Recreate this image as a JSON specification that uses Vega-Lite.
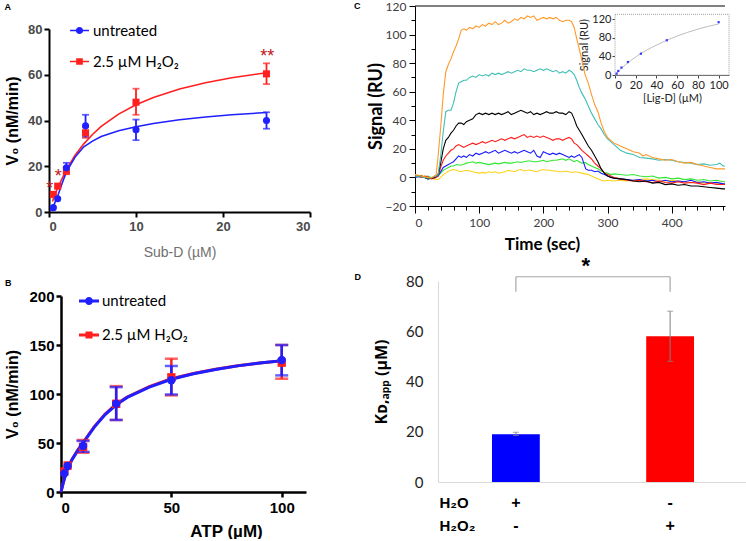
{
"$schema":"https://vega.github.io/schema/vega-lite/v6.json",
"background":"white",
"padding":{"left":3,"top":0,"right":0,"bottom":0},
"config":{"view":{"stroke":null},"axis":{"grid":false,"labelFont":"Liberation Sans","titleFont":"Liberation Sans"},"title":{"font":"Liberation Sans","fontSize":9,"fontWeight":"bold","color":"black","anchor":"start","frame":"bounds"}},
"datasets":{
"SP":[],
"A_fit":[{"g":"Au","x":0.2,"y":0.5},{"g":"Au","x":0.5,"y":2.5},{"g":"Au","x":1,"y":7},{"g":"Au","x":1.5,"y":12.5},{"g":"Au","x":2,"y":17.5},{"g":"Au","x":3,"y":24},{"g":"Au","x":4,"y":28.5},{"g":"Au","x":5,"y":31},{"g":"Au","x":6,"y":33},{"g":"Au","x":8,"y":35.5},{"g":"Au","x":10,"y":37.3},{"g":"Au","x":12,"y":38.7},{"g":"Au","x":15,"y":40.3},{"g":"Au","x":18,"y":41.5},{"g":"Au","x":21,"y":42.5},{"g":"Au","x":25,"y":43.5},
{"g":"Ah","x":0.4,"y":4.6},{"g":"Ah","x":0.5,"y":5.7},{"g":"Ah","x":1,"y":10.6},{"g":"Ah","x":2,"y":18.5},{"g":"Ah","x":3,"y":24.8},{"g":"Ah","x":4,"y":29.8},{"g":"Ah","x":5,"y":33.9},{"g":"Ah","x":6,"y":37.4},{"g":"Ah","x":8,"y":42.8},{"g":"Ah","x":10,"y":46.9},{"g":"Ah","x":12,"y":50.1},{"g":"Ah","x":15,"y":53.8},{"g":"Ah","x":18,"y":56.5},{"g":"Ah","x":21,"y":58.7},{"g":"Ah","x":25,"y":60.9}],
"A_pts":[{"g":"Au","x":0.5,"y":1.9,"lo":1.9,"hi":1.9},{"g":"Au","x":1,"y":5.8,"lo":5.8,"hi":5.8},{"g":"Au","x":2,"y":19.3,"lo":17,"hi":21.5},{"g":"Au","x":4.2,"y":37.7,"lo":33,"hi":42.5},{"g":"Au","x":10,"y":36,"lo":31.4,"hi":40.4},{"g":"Au","x":25,"y":40,"lo":36.4,"hi":43.6},
{"g":"Ah","x":0.5,"y":7.7,"lo":7.7,"hi":7.7},{"g":"Ah","x":1,"y":11.3,"lo":11.3,"hi":11.3},{"g":"Ah","x":2,"y":18,"lo":16.5,"hi":19.5},{"g":"Ah","x":4.2,"y":34.6,"lo":32.4,"hi":37},{"g":"Ah","x":10,"y":48,"lo":42.5,"hi":53.9},{"g":"Ah","x":25,"y":60.4,"lo":55.9,"hi":65}],
"A_star":[{"x":0.1,"y":11.9,"t":"*"},{"x":1.05,"y":17.1,"t":"*"},{"x":25.1,"y":69.5,"t":"**"}],
"B_fit":[{"g":"Bh","x":0,"y":0},{"g":"Bh","x":1,"y":9.5},{"g":"Bh","x":2,"y":17.5},{"g":"Bh","x":3,"y":24.5},{"g":"Bh","x":5,"y":33.5},{"g":"Bh","x":7.5,"y":42.5},{"g":"Bh","x":10,"y":50.5},{"g":"Bh","x":15,"y":66.5},{"g":"Bh","x":20,"y":79.5},{"g":"Bh","x":25,"y":89.5},{"g":"Bh","x":30,"y":97},{"g":"Bh","x":40,"y":107.5},{"g":"Bh","x":50,"y":115.5},{"g":"Bh","x":60,"y":121},{"g":"Bh","x":70,"y":125.3},{"g":"Bh","x":80,"y":128.8},{"g":"Bh","x":90,"y":131.6},{"g":"Bh","x":100,"y":133.8},
{"g":"Bu","x":0,"y":0},{"g":"Bu","x":1,"y":9},{"g":"Bu","x":2,"y":17},{"g":"Bu","x":3,"y":24},{"g":"Bu","x":5,"y":33},{"g":"Bu","x":7.5,"y":42},{"g":"Bu","x":10,"y":50},{"g":"Bu","x":15,"y":66},{"g":"Bu","x":20,"y":79},{"g":"Bu","x":25,"y":89},{"g":"Bu","x":30,"y":96.5},{"g":"Bu","x":40,"y":107},{"g":"Bu","x":50,"y":115},{"g":"Bu","x":60,"y":120.7},{"g":"Bu","x":70,"y":125},{"g":"Bu","x":80,"y":128.7},{"g":"Bu","x":90,"y":131.6},{"g":"Bu","x":100,"y":134}],
"B_pts":[{"g":"Bh","x":1.5,"y":21,"lo":21,"hi":21},{"g":"Bh","x":3,"y":27,"lo":27,"hi":27},{"g":"Bh","x":10,"y":46,"lo":40,"hi":53},{"g":"Bh","x":25,"y":90,"lo":73.5,"hi":108},{"g":"Bh","x":50,"y":117,"lo":98.6,"hi":136},{"g":"Bh","x":100,"y":132,"lo":115.6,"hi":150},
{"g":"Bu","x":1.5,"y":19,"lo":19,"hi":19},{"g":"Bu","x":3,"y":26.5,"lo":26.5,"hi":26.5},{"g":"Bu","x":10,"y":47,"lo":41,"hi":52},{"g":"Bu","x":25,"y":90,"lo":73.5,"hi":107},{"g":"Bu","x":50,"y":114,"lo":99.5,"hi":128.6},{"g":"Bu","x":100,"y":134.7,"lo":119,"hi":150}],
"C_sig":[
{"s":"y","t":0,"v":2},{"s":"y","t":5,"v":1},{"s":"y","t":10,"v":1.5},{"s":"y","t":15,"v":0.5},{"s":"y","t":20,"v":-0.5},{"s":"y","t":25,"v":-0.5},{"s":"y","t":30,"v":-1},{"s":"y","t":33,"v":-1.5},{"s":"y","t":36,"v":-1.5},{"s":"y","t":40,"v":0},{"s":"y","t":44,"v":2},{"s":"y","t":48,"v":3},{"s":"y","t":52,"v":4.5},{"s":"y","t":56,"v":5},{"s":"y","t":60,"v":5.5},{"s":"y","t":65,"v":5},{"s":"y","t":70,"v":4},{"s":"y","t":75,"v":4.5},{"s":"y","t":80,"v":5},{"s":"y","t":85,"v":4.5},{"s":"y","t":90,"v":4},{"s":"y","t":95,"v":3.5},{"s":"y","t":100,"v":3},{"s":"y","t":105,"v":3.5},{"s":"y","t":110,"v":3},{"s":"y","t":115,"v":4},{"s":"y","t":120,"v":3.5},{"s":"y","t":125,"v":4},{"s":"y","t":130,"v":3},{"s":"y","t":135,"v":3.5},{"s":"y","t":140,"v":4},{"s":"y","t":145,"v":5},{"s":"y","t":150,"v":4.5},{"s":"y","t":155,"v":4},{"s":"y","t":160,"v":5},{"s":"y","t":165,"v":5.5},{"s":"y","t":170,"v":4.5},{"s":"y","t":175,"v":5},{"s":"y","t":180,"v":5},{"s":"y","t":185,"v":4.5},{"s":"y","t":190,"v":4},{"s":"y","t":195,"v":5},{"s":"y","t":200,"v":5.5},{"s":"y","t":205,"v":5},{"s":"y","t":210,"v":5},{"s":"y","t":215,"v":4.5},{"s":"y","t":220,"v":4.5},{"s":"y","t":225,"v":4},{"s":"y","t":230,"v":4},{"s":"y","t":235,"v":4.5},{"s":"y","t":240,"v":4},{"s":"y","t":245,"v":3.5},{"s":"y","t":250,"v":4},{"s":"y","t":255,"v":3.5},{"s":"y","t":260,"v":3},{"s":"y","t":265,"v":2.5},{"s":"y","t":270,"v":2},{"s":"y","t":275,"v":1},{"s":"y","t":280,"v":0},{"s":"y","t":285,"v":-1},{"s":"y","t":290,"v":-2},{"s":"y","t":295,"v":-2.5},{"s":"y","t":300,"v":-2},{"s":"y","t":310,"v":-2.5},{"s":"y","t":320,"v":-2},{"s":"y","t":330,"v":-2.5},{"s":"y","t":340,"v":-2},{"s":"y","t":350,"v":-1.5},{"s":"y","t":360,"v":-1},{"s":"y","t":370,"v":-1.5},{"s":"y","t":380,"v":-2},{"s":"y","t":390,"v":-2.5},{"s":"y","t":400,"v":-2},{"s":"y","t":410,"v":-2.5},{"s":"y","t":420,"v":-3},{"s":"y","t":430,"v":-3.5},{"s":"y","t":440,"v":-3},{"s":"y","t":450,"v":-4},{"s":"y","t":460,"v":-3.5},{"s":"y","t":470,"v":-4},{"s":"y","t":480,"v":-4.5},{"s":"y","t":483,"v":-4.5},
{"s":"g","t":0,"v":0.5},{"s":"g","t":5,"v":1},{"s":"g","t":10,"v":0},{"s":"g","t":15,"v":0.5},{"s":"g","t":20,"v":1},{"s":"g","t":25,"v":0},{"s":"g","t":30,"v":0},{"s":"g","t":33,"v":0.5},{"s":"g","t":36,"v":1},{"s":"g","t":40,"v":3},{"s":"g","t":44,"v":5},{"s":"g","t":48,"v":6},{"s":"g","t":52,"v":7},{"s":"g","t":56,"v":8},{"s":"g","t":60,"v":8},{"s":"g","t":65,"v":9},{"s":"g","t":70,"v":8.5},{"s":"g","t":75,"v":9},{"s":"g","t":80,"v":10},{"s":"g","t":85,"v":10.5},{"s":"g","t":90,"v":11},{"s":"g","t":95,"v":10},{"s":"g","t":100,"v":10.5},{"s":"g","t":105,"v":10},{"s":"g","t":110,"v":9.5},{"s":"g","t":115,"v":9},{"s":"g","t":120,"v":9.5},{"s":"g","t":125,"v":10},{"s":"g","t":130,"v":9.5},{"s":"g","t":135,"v":10},{"s":"g","t":140,"v":10.5},{"s":"g","t":145,"v":10},{"s":"g","t":150,"v":10},{"s":"g","t":155,"v":10.5},{"s":"g","t":160,"v":11},{"s":"g","t":165,"v":10.5},{"s":"g","t":170,"v":11},{"s":"g","t":175,"v":11.5},{"s":"g","t":180,"v":11.5},{"s":"g","t":185,"v":11},{"s":"g","t":190,"v":11},{"s":"g","t":195,"v":11.5},{"s":"g","t":200,"v":12},{"s":"g","t":205,"v":11},{"s":"g","t":210,"v":11.5},{"s":"g","t":215,"v":12},{"s":"g","t":220,"v":12},{"s":"g","t":225,"v":12.5},{"s":"g","t":230,"v":13},{"s":"g","t":235,"v":12},{"s":"g","t":240,"v":13},{"s":"g","t":244,"v":12},{"s":"g","t":248,"v":11},{"s":"g","t":252,"v":12},{"s":"g","t":256,"v":11},{"s":"g","t":260,"v":10},{"s":"g","t":265,"v":10.5},{"s":"g","t":270,"v":9},{"s":"g","t":275,"v":8},{"s":"g","t":280,"v":7},{"s":"g","t":285,"v":6},{"s":"g","t":290,"v":4.5},{"s":"g","t":295,"v":3.5},{"s":"g","t":300,"v":3},{"s":"g","t":305,"v":2},{"s":"g","t":310,"v":2.5},{"s":"g","t":320,"v":2},{"s":"g","t":330,"v":1.5},{"s":"g","t":340,"v":2},{"s":"g","t":350,"v":1},{"s":"g","t":360,"v":0.5},{"s":"g","t":370,"v":1},{"s":"g","t":380,"v":-0.5},{"s":"g","t":390,"v":0},{"s":"g","t":400,"v":-1},{"s":"g","t":410,"v":-0.5},{"s":"g","t":420,"v":-1.5},{"s":"g","t":430,"v":-1},{"s":"g","t":440,"v":-2},{"s":"g","t":450,"v":-1.5},{"s":"g","t":460,"v":-2.5},{"s":"g","t":470,"v":-2},{"s":"g","t":480,"v":-3},{"s":"g","t":483,"v":-3},
{"s":"b","t":0,"v":0},{"s":"b","t":5,"v":0.5},{"s":"b","t":10,"v":1},{"s":"b","t":15,"v":0},{"s":"b","t":20,"v":-1},{"s":"b","t":25,"v":-0.5},{"s":"b","t":30,"v":0},{"s":"b","t":33,"v":0.5},{"s":"b","t":36,"v":1},{"s":"b","t":40,"v":4},{"s":"b","t":44,"v":7},{"s":"b","t":48,"v":8},{"s":"b","t":52,"v":9},{"s":"b","t":56,"v":10},{"s":"b","t":60,"v":11},{"s":"b","t":64,"v":13},{"s":"b","t":68,"v":15},{"s":"b","t":72,"v":14},{"s":"b","t":76,"v":15},{"s":"b","t":80,"v":14},{"s":"b","t":85,"v":16},{"s":"b","t":90,"v":15},{"s":"b","t":95,"v":17},{"s":"b","t":100,"v":16},{"s":"b","t":105,"v":17},{"s":"b","t":110,"v":18},{"s":"b","t":115,"v":17},{"s":"b","t":120,"v":18},{"s":"b","t":125,"v":19},{"s":"b","t":130,"v":17},{"s":"b","t":135,"v":18},{"s":"b","t":140,"v":19},{"s":"b","t":145,"v":18},{"s":"b","t":150,"v":17},{"s":"b","t":155,"v":18},{"s":"b","t":160,"v":17},{"s":"b","t":165,"v":18},{"s":"b","t":170,"v":19},{"s":"b","t":175,"v":18},{"s":"b","t":180,"v":17},{"s":"b","t":185,"v":19},{"s":"b","t":190,"v":15},{"s":"b","t":195,"v":14},{"s":"b","t":200,"v":18},{"s":"b","t":205,"v":17},{"s":"b","t":210,"v":16},{"s":"b","t":215,"v":17},{"s":"b","t":220,"v":16},{"s":"b","t":225,"v":17},{"s":"b","t":230,"v":16},{"s":"b","t":235,"v":15},{"s":"b","t":240,"v":14},{"s":"b","t":244,"v":15},{"s":"b","t":248,"v":14},{"s":"b","t":252,"v":15},{"s":"b","t":256,"v":16},{"s":"b","t":260,"v":14},{"s":"b","t":263,"v":10},{"s":"b","t":266,"v":6},{"s":"b","t":270,"v":5},{"s":"b","t":275,"v":5},{"s":"b","t":280,"v":4},{"s":"b","t":285,"v":4.5},{"s":"b","t":290,"v":3},{"s":"b","t":295,"v":2},{"s":"b","t":300,"v":1},{"s":"b","t":310,"v":-0.5},{"s":"b","t":320,"v":-1},{"s":"b","t":330,"v":-1.5},{"s":"b","t":340,"v":-2},{"s":"b","t":350,"v":-1.5},{"s":"b","t":360,"v":-2.5},{"s":"b","t":370,"v":-2},{"s":"b","t":380,"v":-3},{"s":"b","t":390,"v":-2},{"s":"b","t":400,"v":-3},{"s":"b","t":410,"v":-2.5},{"s":"b","t":420,"v":-3},{"s":"b","t":430,"v":-2},{"s":"b","t":440,"v":-3.5},{"s":"b","t":450,"v":-3},{"s":"b","t":460,"v":-4},{"s":"b","t":470,"v":-3.5},{"s":"b","t":480,"v":-4.5},{"s":"b","t":483,"v":-4.5},
{"s":"r","t":0,"v":1},{"s":"r","t":5,"v":0.5},{"s":"r","t":10,"v":0},{"s":"r","t":15,"v":1},{"s":"r","t":20,"v":0.5},{"s":"r","t":25,"v":-1},{"s":"r","t":30,"v":-0.5},{"s":"r","t":33,"v":0},{"s":"r","t":36,"v":1},{"s":"r","t":40,"v":7},{"s":"r","t":44,"v":12},{"s":"r","t":48,"v":15},{"s":"r","t":52,"v":17},{"s":"r","t":56,"v":19},{"s":"r","t":60,"v":20},{"s":"r","t":64,"v":22},{"s":"r","t":68,"v":23},{"s":"r","t":72,"v":22},{"s":"r","t":76,"v":21},{"s":"r","t":80,"v":22},{"s":"r","t":85,"v":23},{"s":"r","t":90,"v":24},{"s":"r","t":95,"v":23},{"s":"r","t":100,"v":24},{"s":"r","t":105,"v":25},{"s":"r","t":110,"v":24},{"s":"r","t":115,"v":25},{"s":"r","t":120,"v":26},{"s":"r","t":125,"v":25},{"s":"r","t":130,"v":26},{"s":"r","t":135,"v":27},{"s":"r","t":140,"v":26},{"s":"r","t":145,"v":27},{"s":"r","t":150,"v":28},{"s":"r","t":155,"v":27},{"s":"r","t":160,"v":28},{"s":"r","t":165,"v":29},{"s":"r","t":170,"v":30},{"s":"r","t":175,"v":28},{"s":"r","t":180,"v":29},{"s":"r","t":185,"v":28},{"s":"r","t":190,"v":29},{"s":"r","t":195,"v":28},{"s":"r","t":200,"v":29},{"s":"r","t":205,"v":28},{"s":"r","t":210,"v":27},{"s":"r","t":215,"v":26},{"s":"r","t":220,"v":27},{"s":"r","t":225,"v":27},{"s":"r","t":230,"v":26},{"s":"r","t":235,"v":27},{"s":"r","t":240,"v":28},{"s":"r","t":244,"v":27},{"s":"r","t":248,"v":24},{"s":"r","t":252,"v":23},{"s":"r","t":256,"v":21},{"s":"r","t":260,"v":19},{"s":"r","t":265,"v":17},{"s":"r","t":270,"v":15},{"s":"r","t":275,"v":13},{"s":"r","t":280,"v":10},{"s":"r","t":285,"v":8},{"s":"r","t":290,"v":6},{"s":"r","t":295,"v":3},{"s":"r","t":300,"v":2},{"s":"r","t":305,"v":1},{"s":"r","t":310,"v":0},{"s":"r","t":320,"v":-1},{"s":"r","t":330,"v":-2},{"s":"r","t":340,"v":-2.5},{"s":"r","t":350,"v":-2},{"s":"r","t":360,"v":-3},{"s":"r","t":370,"v":-3.5},{"s":"r","t":380,"v":-2.5},{"s":"r","t":390,"v":-3.5},{"s":"r","t":400,"v":-4},{"s":"r","t":410,"v":-3},{"s":"r","t":420,"v":-4},{"s":"r","t":430,"v":-3.5},{"s":"r","t":440,"v":-4},{"s":"r","t":450,"v":-5},{"s":"r","t":460,"v":-4},{"s":"r","t":470,"v":-5},{"s":"r","t":480,"v":-5},{"s":"r","t":483,"v":-5},
{"s":"k","t":0,"v":0.5},{"s":"k","t":5,"v":1},{"s":"k","t":10,"v":1},{"s":"k","t":15,"v":0},{"s":"k","t":20,"v":-1},{"s":"k","t":25,"v":-0.5},{"s":"k","t":30,"v":0},{"s":"k","t":33,"v":1},{"s":"k","t":36,"v":2},{"s":"k","t":40,"v":10},{"s":"k","t":44,"v":20},{"s":"k","t":48,"v":26},{"s":"k","t":52,"v":28},{"s":"k","t":56,"v":31},{"s":"k","t":60,"v":33},{"s":"k","t":64,"v":36},{"s":"k","t":68,"v":38},{"s":"k","t":72,"v":38},{"s":"k","t":76,"v":37},{"s":"k","t":80,"v":39},{"s":"k","t":85,"v":40},{"s":"k","t":90,"v":41},{"s":"k","t":95,"v":44},{"s":"k","t":100,"v":45},{"s":"k","t":105,"v":44},{"s":"k","t":110,"v":45},{"s":"k","t":115,"v":44},{"s":"k","t":120,"v":45},{"s":"k","t":125,"v":44},{"s":"k","t":130,"v":45},{"s":"k","t":135,"v":44},{"s":"k","t":140,"v":45},{"s":"k","t":145,"v":46},{"s":"k","t":150,"v":44},{"s":"k","t":155,"v":45},{"s":"k","t":160,"v":46},{"s":"k","t":165,"v":47},{"s":"k","t":170,"v":46},{"s":"k","t":175,"v":45},{"s":"k","t":180,"v":46},{"s":"k","t":185,"v":44},{"s":"k","t":190,"v":45},{"s":"k","t":195,"v":44},{"s":"k","t":200,"v":45},{"s":"k","t":205,"v":46},{"s":"k","t":210,"v":45},{"s":"k","t":215,"v":45},{"s":"k","t":220,"v":46},{"s":"k","t":225,"v":45},{"s":"k","t":230,"v":45},{"s":"k","t":235,"v":44},{"s":"k","t":240,"v":46},{"s":"k","t":244,"v":45},{"s":"k","t":248,"v":41},{"s":"k","t":252,"v":36},{"s":"k","t":256,"v":33},{"s":"k","t":260,"v":30},{"s":"k","t":265,"v":26},{"s":"k","t":270,"v":22},{"s":"k","t":275,"v":19},{"s":"k","t":280,"v":15},{"s":"k","t":285,"v":11},{"s":"k","t":290,"v":6},{"s":"k","t":295,"v":3},{"s":"k","t":300,"v":1},{"s":"k","t":305,"v":0},{"s":"k","t":310,"v":-0.5},{"s":"k","t":320,"v":-1},{"s":"k","t":330,"v":-1.5},{"s":"k","t":340,"v":-2.5},{"s":"k","t":350,"v":-3},{"s":"k","t":360,"v":-2.5},{"s":"k","t":370,"v":-4},{"s":"k","t":380,"v":-3.5},{"s":"k","t":390,"v":-5},{"s":"k","t":400,"v":-4.5},{"s":"k","t":410,"v":-5.5},{"s":"k","t":420,"v":-5},{"s":"k","t":430,"v":-6},{"s":"k","t":440,"v":-6},{"s":"k","t":450,"v":-6.5},{"s":"k","t":460,"v":-7},{"s":"k","t":470,"v":-7.5},{"s":"k","t":480,"v":-8},{"s":"k","t":483,"v":-8},
{"s":"c","t":0,"v":1},{"s":"c","t":5,"v":0.5},{"s":"c","t":10,"v":0.5},{"s":"c","t":15,"v":0},{"s":"c","t":20,"v":-0.5},{"s":"c","t":25,"v":0},{"s":"c","t":30,"v":0.5},{"s":"c","t":33,"v":1},{"s":"c","t":36,"v":2},{"s":"c","t":40,"v":15},{"s":"c","t":44,"v":32},{"s":"c","t":48,"v":46},{"s":"c","t":52,"v":47},{"s":"c","t":56,"v":47},{"s":"c","t":60,"v":52},{"s":"c","t":64,"v":60},{"s":"c","t":68,"v":66},{"s":"c","t":72,"v":67},{"s":"c","t":76,"v":68},{"s":"c","t":80,"v":68},{"s":"c","t":85,"v":70},{"s":"c","t":90,"v":71},{"s":"c","t":95,"v":70},{"s":"c","t":100,"v":72},{"s":"c","t":105,"v":71},{"s":"c","t":110,"v":72},{"s":"c","t":115,"v":71},{"s":"c","t":120,"v":73},{"s":"c","t":125,"v":72},{"s":"c","t":130,"v":73},{"s":"c","t":135,"v":72},{"s":"c","t":140,"v":73},{"s":"c","t":145,"v":74},{"s":"c","t":150,"v":73},{"s":"c","t":155,"v":74},{"s":"c","t":160,"v":75},{"s":"c","t":165,"v":74},{"s":"c","t":170,"v":76},{"s":"c","t":175,"v":75},{"s":"c","t":180,"v":75},{"s":"c","t":185,"v":74},{"s":"c","t":190,"v":75},{"s":"c","t":195,"v":76},{"s":"c","t":200,"v":75},{"s":"c","t":205,"v":76},{"s":"c","t":210,"v":75},{"s":"c","t":215,"v":74},{"s":"c","t":220,"v":75},{"s":"c","t":225,"v":73},{"s":"c","t":230,"v":74},{"s":"c","t":235,"v":73},{"s":"c","t":240,"v":75},{"s":"c","t":244,"v":74},{"s":"c","t":248,"v":72},{"s":"c","t":252,"v":68},{"s":"c","t":256,"v":63},{"s":"c","t":260,"v":59},{"s":"c","t":265,"v":55},{"s":"c","t":270,"v":50},{"s":"c","t":275,"v":45},{"s":"c","t":280,"v":41},{"s":"c","t":285,"v":37},{"s":"c","t":290,"v":34},{"s":"c","t":295,"v":30},{"s":"c","t":300,"v":27},{"s":"c","t":305,"v":25},{"s":"c","t":310,"v":23},{"s":"c","t":315,"v":21},{"s":"c","t":320,"v":19},{"s":"c","t":325,"v":18},{"s":"c","t":330,"v":17},{"s":"c","t":340,"v":16},{"s":"c","t":350,"v":14},{"s":"c","t":360,"v":13.5},{"s":"c","t":370,"v":13},{"s":"c","t":380,"v":12},{"s":"c","t":390,"v":12.5},{"s":"c","t":400,"v":12},{"s":"c","t":410,"v":11},{"s":"c","t":420,"v":10.5},{"s":"c","t":430,"v":10},{"s":"c","t":440,"v":9},{"s":"c","t":450,"v":9.5},{"s":"c","t":460,"v":8.5},{"s":"c","t":470,"v":9},{"s":"c","t":475,"v":10},{"s":"c","t":480,"v":8},{"s":"c","t":483,"v":8},
{"s":"o","t":0,"v":2},{"s":"o","t":5,"v":1.5},{"s":"o","t":10,"v":1},{"s":"o","t":15,"v":0.5},{"s":"o","t":20,"v":0},{"s":"o","t":25,"v":-0.5},{"s":"o","t":30,"v":1},{"s":"o","t":33,"v":2},{"s":"o","t":36,"v":15},{"s":"o","t":40,"v":35},{"s":"o","t":44,"v":58},{"s":"o","t":48,"v":74},{"s":"o","t":52,"v":79},{"s":"o","t":56,"v":83},{"s":"o","t":60,"v":88},{"s":"o","t":64,"v":92},{"s":"o","t":68,"v":97},{"s":"o","t":72,"v":103},{"s":"o","t":76,"v":104},{"s":"o","t":80,"v":103},{"s":"o","t":85,"v":105},{"s":"o","t":90,"v":104},{"s":"o","t":95,"v":106},{"s":"o","t":100,"v":105},{"s":"o","t":105,"v":107},{"s":"o","t":110,"v":106},{"s":"o","t":115,"v":108},{"s":"o","t":120,"v":107},{"s":"o","t":125,"v":109},{"s":"o","t":130,"v":107},{"s":"o","t":135,"v":108},{"s":"o","t":140,"v":110},{"s":"o","t":145,"v":108},{"s":"o","t":150,"v":109},{"s":"o","t":155,"v":111},{"s":"o","t":160,"v":110},{"s":"o","t":165,"v":112},{"s":"o","t":170,"v":111},{"s":"o","t":175,"v":113},{"s":"o","t":180,"v":112},{"s":"o","t":185,"v":113},{"s":"o","t":190,"v":110},{"s":"o","t":195,"v":111},{"s":"o","t":200,"v":112},{"s":"o","t":205,"v":111},{"s":"o","t":210,"v":112},{"s":"o","t":215,"v":111},{"s":"o","t":220,"v":112},{"s":"o","t":225,"v":110},{"s":"o","t":230,"v":109},{"s":"o","t":235,"v":110},{"s":"o","t":240,"v":110},{"s":"o","t":244,"v":109},{"s":"o","t":248,"v":105},{"s":"o","t":252,"v":97},{"s":"o","t":256,"v":90},{"s":"o","t":260,"v":82},{"s":"o","t":265,"v":72},{"s":"o","t":270,"v":66},{"s":"o","t":275,"v":58},{"s":"o","t":280,"v":51},{"s":"o","t":285,"v":46},{"s":"o","t":290,"v":38},{"s":"o","t":295,"v":32},{"s":"o","t":300,"v":28},{"s":"o","t":305,"v":26},{"s":"o","t":310,"v":24},{"s":"o","t":315,"v":23},{"s":"o","t":320,"v":22},{"s":"o","t":325,"v":21},{"s":"o","t":330,"v":20},{"s":"o","t":335,"v":19},{"s":"o","t":340,"v":18},{"s":"o","t":350,"v":17},{"s":"o","t":355,"v":15},{"s":"o","t":360,"v":16},{"s":"o","t":370,"v":14},{"s":"o","t":380,"v":13},{"s":"o","t":390,"v":12},{"s":"o","t":400,"v":12.5},{"s":"o","t":410,"v":11},{"s":"o","t":420,"v":10},{"s":"o","t":430,"v":10.5},{"s":"o","t":440,"v":9},{"s":"o","t":450,"v":8},{"s":"o","t":460,"v":7},{"s":"o","t":470,"v":6},{"s":"o","t":480,"v":6},{"s":"o","t":483,"v":6}],
"C_top":[{"y":120}],
"C_frame":[{"x0":0,"x1":110,"y0":0,"y1":131}],
"C_ifit":[{"x":0,"y":0},{"x":5,"y":12},{"x":10,"y":22},{"x":20,"y":39},{"x":30,"y":53},{"x":40,"y":64.5},{"x":50,"y":75},{"x":60,"y":84},{"x":70,"y":92},{"x":80,"y":99},{"x":90,"y":105},{"x":100,"y":110}],
"C_ipts":[{"x":1.56,"y":3},{"x":3.13,"y":8.6},{"x":6.25,"y":16},{"x":12.5,"y":28},{"x":25,"y":46},{"x":50,"y":75},{"x":100,"y":114}],
"D_bars":[{"c":"a","v":19,"lo":18.5,"hi":19.8},{"c":"b","v":58,"lo":48,"hi":68}],
"D_brv":[{"c":"a","y":75.7,"y2":81.7},{"c":"b","y":75.7,"y2":81.7}],
"D_brh":[{"c":"a","c2":"b","y":81.7}],
"D_star":[{"c":"a","y":86,"t":"*"}]
},
"resolve":{"scale":{"color":"independent","shape":"independent"},"legend":{"color":"independent","shape":"independent"}},
"spacing":42,
"hconcat":[
{"vconcat":[
 {"width":1,"height":1,"data":{"name":"SP"},"mark":{"type":"point","opacity":0},"encoding":{}},
 {"vconcat":[
  {"hconcat":[
   {"width":1,"height":1,"data":{"name":"SP"},"mark":{"type":"point","opacity":0},"encoding":{}},
   {"width":261,"height":183,
    "title":{"text":"A","offset":9},
    "layer":[
     {"data":{"name":"A_fit"},"transform":[{"filter":"datum.g === 'Ah'"}],"mark":{"type":"line","strokeWidth":1.6,"color":"#ff1f1f"},
      "encoding":{
       "x":{"field":"x","type":"quantitative","scale":{"domain":[0,30],"nice":false},"axis":{"values":[0,10,20,30],"title":"Sub-D (µM)","titleColor":"#707070","titleFontWeight":"normal","titleFontSize":14,"titlePadding":12,"labelColor":"#4a4a4a","labelFontWeight":"bold","labelFontSize":13,"labelPadding":3,"domainColor":"black","domainWidth":2,"tickColor":"black","tickWidth":2,"tickSize":5}},
       "y":{"field":"y","type":"quantitative","title":"V₀ (nM/min)","scale":{"domain":[0,80],"nice":false},"axis":{"values":[0,20,40,60,80],"titleColor":"black","titleFontSize":16,"titleFontWeight":"bold","titlePadding":7,"labelColor":"#4a4a4a","labelFontWeight":"bold","labelFontSize":13,"labelPadding":2,"domainColor":"black","domainWidth":2,"tickColor":"black","tickWidth":2,"tickSize":5}}}},
     {"data":{"name":"A_fit"},"transform":[{"filter":"datum.g === 'Au'"}],"mark":{"type":"line","strokeWidth":1.6,"color":"#1f1fff"},
      "encoding":{"x":{"field":"x","type":"quantitative"},"y":{"field":"y","type":"quantitative","title":"V₀ (nM/min)"}}},
     {"data":{"name":"A_pts"},"transform":[{"filter":"datum.g === 'Ah' && datum.hi > datum.lo"}],"mark":{"type":"errorbar","color":"#ff1f1f","thickness":1.8,"ticks":{"size":7,"thickness":1.8,"color":"#ff1f1f"}},
      "encoding":{"x":{"field":"x","type":"quantitative"},"y":{"field":"lo","type":"quantitative","title":"V₀ (nM/min)"},"y2":{"field":"hi"}}},
     {"data":{"name":"A_pts"},"transform":[{"filter":"datum.g === 'Au' && datum.hi > datum.lo"}],"mark":{"type":"errorbar","color":"#1f1fff","thickness":1.8,"ticks":{"size":7,"thickness":1.8,"color":"#1f1fff"}},
      "encoding":{"x":{"field":"x","type":"quantitative"},"y":{"field":"lo","type":"quantitative","title":"V₀ (nM/min)"},"y2":{"field":"hi"}}},
     {"data":{"name":"A_pts"},"transform":[{"filter":"datum.g === 'Ah'"}],"mark":{"type":"point","shape":"square","filled":true,"opacity":1,"size":50,"color":"#ff1f1f"},
      "encoding":{"x":{"field":"x","type":"quantitative"},"y":{"field":"y","type":"quantitative","title":"V₀ (nM/min)"}}},
     {"data":{"name":"A_pts"},"transform":[{"filter":"datum.g === 'Au'"}],"mark":{"type":"point","shape":"circle","filled":true,"opacity":1,"size":50,"color":"#1f1fff"},
      "encoding":{"x":{"field":"x","type":"quantitative"},"y":{"field":"y","type":"quantitative","title":"V₀ (nM/min)"}}},
     {"data":{"name":"A_pts"},"transform":[{"filter":"false"}],"mark":{"type":"point","filled":true,"opacity":1},
      "encoding":{"x":{"field":"x","type":"quantitative"},"y":{"field":"y","type":"quantitative","title":"V₀ (nM/min)"},
       "color":{"field":"g","type":"nominal","scale":{"domain":["Au","Ah"],"range":["#1f1fff","#ff1f1f"]},
         "legend":{"orient":"none","legendX":21,"legendY":-8,"title":null,"labelFont":"Lato","labelFontSize":15,"labelColor":"black","symbolSize":361,"symbolOpacity":1,"symbolStrokeWidth":0,"rowPadding":13,"labelOffset":4,
          "labelExpr":"datum.value === 'Au' ? 'untreated' : '2.5 µM H₂O₂'"}},
       "shape":{"field":"g","type":"nominal","scale":{"domain":["Au","Ah"],"range":["M-1,-0.07H1V0.07H-1Z M-0.38,0A0.38,0.38 0 1,1 0.38,0A0.38,0.38 0 1,1 -0.38,0Z","M-1,-0.07H1V0.07H-1Z M-0.35,-0.35H0.35V0.35H-0.35Z"]}}}},
     {"data":{"name":"A_star"},"mark":{"type":"text","color":"#c0141c","fontSize":18,"baseline":"middle","dy":4},
      "encoding":{"x":{"field":"x","type":"quantitative"},"y":{"field":"y","type":"quantitative","title":"V₀ (nM/min)"},"text":{"field":"t"}}}
    ]}
  ],"spacing":0,"resolve":{"scale":{"color":"independent","shape":"independent"},"legend":{"color":"independent","shape":"independent"}}},
  {"hconcat":[
   {"width":1,"height":1,"data":{"name":"SP"},"mark":{"type":"point","opacity":0},"encoding":{}},
   {"width":245,"height":196,
    "title":{"text":"B","offset":1},
    "layer":[
     {"data":{"name":"B_fit"},"transform":[{"filter":"datum.g === 'Bh'"}],"mark":{"type":"line","strokeWidth":3,"color":"#ff1f1f"},
      "encoding":{
       "x":{"field":"x","type":"quantitative","scale":{"domain":[0,111],"nice":false},"axis":{"values":[0,50,100],"title":"ATP (µM)","titleX":165,"titleColor":"black","titleFontWeight":"bold","titleFontSize":17,"titlePadding":8,"labelColor":"black","labelFontWeight":"bold","labelFontSize":15,"labelPadding":3,"domainColor":"black","domainWidth":2.5,"tickColor":"black","tickWidth":2.5,"tickSize":5}},
       "y":{"field":"y","type":"quantitative","title":"V₀ (nM/min)","scale":{"domain":[0,200],"nice":false},"axis":{"values":[0,50,100,150,200],"titleColor":"black","titleFontSize":16,"titleFontWeight":"bold","titlePadding":8,"labelColor":"black","labelFontWeight":"bold","labelFontSize":15,"labelPadding":2,"domainColor":"black","domainWidth":2.5,"tickColor":"black","tickWidth":2.5,"tickSize":5}}}},
     {"data":{"name":"B_fit"},"transform":[{"filter":"datum.g === 'Bu'"}],"mark":{"type":"line","strokeWidth":3,"color":"#1f1fff"},
      "encoding":{"x":{"field":"x","type":"quantitative"},"y":{"field":"y","type":"quantitative","title":"V₀ (nM/min)"}}},
     {"data":{"name":"B_pts"},"transform":[{"filter":"datum.g === 'Bh' && datum.hi > datum.lo"}],"mark":{"type":"errorbar","color":"#ff1f1f","thickness":2.5,"ticks":{"size":13,"thickness":2.5,"color":"#ff1f1f"}},
      "encoding":{"x":{"field":"x","type":"quantitative"},"y":{"field":"lo","type":"quantitative","title":"V₀ (nM/min)"},"y2":{"field":"hi"}}},
     {"data":{"name":"B_pts"},"transform":[{"filter":"datum.g === 'Bu' && datum.hi > datum.lo"}],"mark":{"type":"errorbar","color":"#1f1fff","thickness":2.5,"ticks":{"size":13,"thickness":2.5,"color":"#1f1fff"}},
      "encoding":{"x":{"field":"x","type":"quantitative"},"y":{"field":"lo","type":"quantitative","title":"V₀ (nM/min)"},"y2":{"field":"hi"}}},
     {"data":{"name":"B_pts"},"transform":[{"filter":"datum.g === 'Bh'"}],"mark":{"type":"point","shape":"square","filled":true,"opacity":1,"size":70,"color":"#ff1f1f"},
      "encoding":{"x":{"field":"x","type":"quantitative"},"y":{"field":"y","type":"quantitative","title":"V₀ (nM/min)"}}},
     {"data":{"name":"B_pts"},"transform":[{"filter":"datum.g === 'Bu'"}],"mark":{"type":"point","shape":"circle","filled":true,"opacity":1,"size":70,"color":"#1f1fff"},
      "encoding":{"x":{"field":"x","type":"quantitative"},"y":{"field":"y","type":"quantitative","title":"V₀ (nM/min)"}}},
     {"data":{"name":"B_pts"},"transform":[{"filter":"false"}],"mark":{"type":"point","filled":true,"opacity":1},
      "encoding":{"x":{"field":"x","type":"quantitative"},"y":{"field":"y","type":"quantitative","title":"V₀ (nM/min)"},
       "color":{"field":"g","type":"nominal","scale":{"domain":["Bu","Bh"],"range":["#1f1fff","#ff1f1f"]},
         "legend":{"orient":"none","legendX":18,"legendY":-5,"title":null,"labelFont":"Lato","labelFontSize":15,"labelColor":"black","symbolSize":400,"symbolOpacity":1,"symbolStrokeWidth":0,"rowPadding":16,"labelOffset":3,
          "labelExpr":"datum.value === 'Bu' ? 'untreated' : '2.5 µM H₂O₂'"}},
       "shape":{"field":"g","type":"nominal","scale":{"domain":["Bu","Bh"],"range":["M-1,-0.15H1V0.15H-1Z M-0.4,0A0.4,0.4 0 1,1 0.4,0A0.4,0.4 0 1,1 -0.4,0Z","M-1,-0.15H1V0.15H-1Z M-0.35,-0.35H0.35V0.35H-0.35Z"]}}}}
    ]}
  ],"spacing":0,"resolve":{"scale":{"color":"independent","shape":"independent"},"legend":{"color":"independent","shape":"independent"}}}
 ],"spacing":20,"resolve":{"scale":{"color":"independent","shape":"independent"},"legend":{"color":"independent","shape":"independent"}}}
],"spacing":-4,"resolve":{"scale":{"color":"independent","shape":"independent"},"legend":{"color":"independent","shape":"independent"}}},
{"vconcat":[
 {"hconcat":[
  {"width":1,"height":1,"data":{"name":"SP"},"mark":{"type":"point","opacity":0},"encoding":{}},
  {"width":310,"height":200,
   "title":{"text":"C","orient":"left","anchor":"end","frame":"group","angle":0,"baseline":"middle","align":"right","offset":0},
   "layer":[
    {"layer":[
     {"data":{"name":"C_sig"},"mark":{"type":"line","strokeWidth":1.1},
      "encoding":{
       "x":{"field":"t","type":"quantitative","scale":{"domain":[0,483],"nice":false},"axis":{"values":[0,20,40,60,80,100,120,140,160,180,200,220,240,260,280,300,320,340,360,380,400,420,440,460,480],"labelExpr":"datum.value % 100 === 0 ? datum.label : ''","tickSize":{"condition":{"test":"datum.value % 100 === 0","value":7},"value":4},"title":"Time (sec)","titleFont":"Lato","titleFontSize":17,"titleFontWeight":"bold","titleColor":"black","titleX":127,"titlePadding":8,"labelFont":"Lato","labelFontSize":12,"labelColor":"#404040","labelPadding":4,"labelOverlap":false,"domainColor":"black","tickColor":"black"}},
       "y":{"field":"v","type":"quantitative","title":"Signal (RU)","scale":{"domain":[-20,120],"nice":false},"axis":{"values":[-20,-10,0,10,20,30,40,50,60,70,80,90,100,110,120],"labelExpr":"datum.value % 20 === 0 ? datum.label : ''","tickSize":{"condition":{"test":"datum.value % 20 === 0","value":6},"value":4},"titleFont":"Lato","titleFontSize":18,"titleFontWeight":"bold","titleColor":"black","titlePadding":0,"labelFont":"Lato","labelFontSize":12,"labelColor":"#404040","labelPadding":3,"labelOverlap":false,"domainColor":"black","tickColor":"black"}},
       "color":{"field":"s","type":"nominal","scale":{"domain":["y","g","b","r","k","c","o"],"range":["#ffd21a","#33e633","#1a1aff","#ff1a1a","#000000","#40bfb5","#ff9a2a"]},"legend":null}}},
     {"data":{"name":"C_top"},"mark":{"type":"rule","color":"black","strokeWidth":1},
      "encoding":{"y":{"field":"y","type":"quantitative","title":"Signal (RU)","axis":{"values":[-20,-10,0,10,20,30,40,50,60,70,80,90,100,110,120],"labelExpr":"datum.value % 20 === 0 ? datum.label : ''","tickSize":{"condition":{"test":"datum.value % 20 === 0","value":6},"value":4},"titleFont":"Lato","titleFontSize":18,"titleFontWeight":"bold","titleColor":"black","titlePadding":0,"labelFont":"Lato","labelFontSize":12,"labelColor":"#404040","labelPadding":3,"labelOverlap":false,"domainColor":"black","tickColor":"black"}}}}
    ]},
    {"layer":[
     {"data":{"name":"C_frame"},"mark":{"type":"rect","fill":"white","stroke":"#a0a0a0","strokeDash":[1,1],"strokeWidth":1},
      "encoding":{
       "x":{"field":"x0","type":"quantitative","scale":{"domain":[0,110],"range":[200,314],"nice":false},"axis":{"orient":"bottom","offset":-131,"values":[0,20,40,60,80,100],"title":"[Lig-D] (µM)","titleFont":"Lato","titleFontSize":11,"titleFontWeight":"normal","titleColor":"#222","titlePadding":2,"labelFont":"Lato","labelFontSize":11,"labelColor":"#222","labelPadding":1,"tickSize":3,"domainColor":"#666","tickColor":"#444"}},
       "x2":{"field":"x1"},
       "y":{"field":"y0","type":"quantitative","scale":{"domain":[0,131],"range":[69,8.3],"nice":false},"axis":{"orient":"left","offset":-200,"values":[0,40,80,120],"title":"Signal (RU)","titleFont":"Lato","titleFontSize":11,"titleFontWeight":"normal","titleColor":"#222","titlePadding":2,"labelFont":"Lato","labelFontSize":11,"labelColor":"#222","labelPadding":1,"tickSize":3,"domainColor":"#666","tickColor":"#444"}},
       "y2":{"field":"y1"}}},
     {"data":{"name":"C_ifit"},"mark":{"type":"line","color":"#bdbdbd","strokeWidth":1,"interpolate":"monotone"},
      "encoding":{"x":{"field":"x","type":"quantitative","title":"[Lig-D] (µM)"},"y":{"field":"y","type":"quantitative","title":"Signal (RU)"}}},
     {"data":{"name":"C_ipts"},"mark":{"type":"square","color":"#3a3aff","size":5,"opacity":1},
      "encoding":{"x":{"field":"x","type":"quantitative","title":"[Lig-D] (µM)"},"y":{"field":"y","type":"quantitative","title":"Signal (RU)"}}}
    ]}
   ],
   "resolve":{"scale":{"x":"independent","y":"independent"},"axis":{"x":"independent","y":"independent"}}}
 ],"spacing":0,"resolve":{"scale":{"color":"independent"},"legend":{"color":"independent"}}},
 {"hconcat":[
  {"width":1,"height":1,"data":{"name":"SP"},"mark":{"type":"point","opacity":0},"encoding":{}},
  {"width":310,"height":201,
   "title":{"text":"D","orient":"left","anchor":"end","frame":"group","angle":0,"baseline":"middle","align":"right","offset":6,"dy":-4},
   "layer":[
    {"data":{"name":"D_bars"},"mark":{"type":"bar"},
     "encoding":{
      "x":{"field":"c","type":"nominal","scale":{"domain":["a","b"],"paddingInner":0.69,"paddingOuter":0.35},"axis":{"labelExpr":"datum.value === 'a' ? ['+','-'] : ['-','+']","labelAngle":0,"labelFont":"Liberation Sans","labelFontSize":16,"labelFontWeight":"bold","labelColor":"black","labelLineHeight":23,"labelPadding":12,"ticks":false,"domainColor":"#d9d9d9","title":["H₂O","H₂O₂"],"titleAnchor":"start","titleAlign":"left","titleBaseline":"top","titleX":1,"titleY":13,"titleFontSize":15,"titleFontWeight":"bold","titleColor":"black","titleLineHeight":23}},
      "y":{"field":"v","type":"quantitative","title":"Kᴅ,ₐₚₚ (µM)","scale":{"domain":[0,80],"nice":false},"axis":{"values":[0,10,20,30,40,50,60,70,80],"ticks":false,"domainColor":"#d9d9d9","labelFont":"Lato","labelFontSize":15,"labelColor":"#222","labelPadding":15,"titleFont":"Noto Sans","titleFontSize":16,"titleFontWeight":"bold","titleColor":"black","titlePadding":16}},
      "color":{"field":"c","type":"nominal","scale":{"domain":["a","b"],"range":["#0000ff","#ff0000"]},"legend":null}}},
    {"data":{"name":"D_bars"},"mark":{"type":"errorbar","color":"#808080","thickness":1,"ticks":{"size":6,"thickness":1,"color":"#808080"}},
     "encoding":{"x":{"field":"c","type":"nominal"},"y":{"field":"lo","type":"quantitative","title":"Kᴅ,ₐₚₚ (µM)"},"y2":{"field":"hi"}}},
    {"data":{"name":"D_brv"},"mark":{"type":"rule","color":"#a6a6a6","strokeWidth":1.2},
     "encoding":{"x":{"field":"c","type":"nominal"},"y":{"field":"y","type":"quantitative","title":"Kᴅ,ₐₚₚ (µM)"},"y2":{"field":"y2"}}},
    {"data":{"name":"D_brh"},"mark":{"type":"rule","color":"#a6a6a6","strokeWidth":1.2},
     "encoding":{"x":{"field":"c","type":"nominal"},"x2":{"field":"c2"},"y":{"field":"y","type":"quantitative","title":"Kᴅ,ₐₚₚ (µM)"}}},
    {"data":{"name":"D_star"},"mark":{"type":"text","fontSize":22,"fontWeight":"bold","color":"black","dx":70,"baseline":"middle"},
     "encoding":{"x":{"field":"c","type":"nominal"},"y":{"field":"y","type":"quantitative","title":"Kᴅ,ₐₚₚ (µM)"},"text":{"field":"t"}}}
   ]}
 ],"spacing":0,"resolve":{"scale":{"color":"independent"},"legend":{"color":"independent"}}}
],"spacing":2,"resolve":{"scale":{"color":"independent"},"legend":{"color":"independent"}}}
]
}
